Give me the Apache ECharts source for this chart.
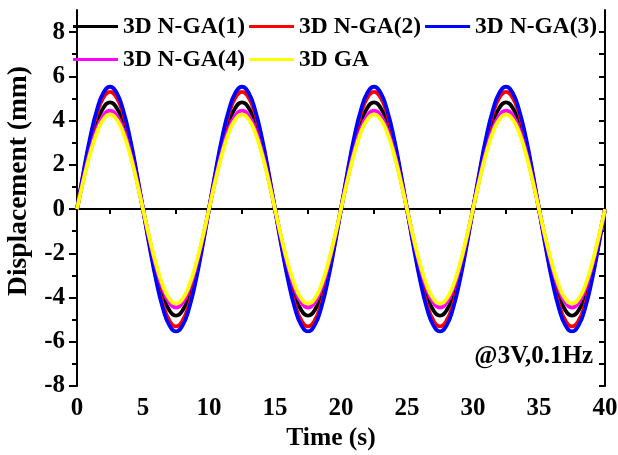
<!DOCTYPE html>
<html>
<head>
<meta charset="utf-8">
<script src="https://cdn.jsdelivr.net/npm/echarts@6/dist/echarts.min.js"></script>
<style>
  html, body { margin: 0; padding: 0; background: #fff; }
  #chart { width: 618px; height: 455px; }
</style>
</head>
<body>
<div id="chart"></div>
<script>
// sample times (s)
var time = [
  0, 0.5, 1, 1.5, 2, 2.5, 3, 3.5, 4, 4.5, 5, 5.5, 6, 6.5, 7, 7.5, 8, 8.5, 9, 9.5,
  10, 10.5, 11, 11.5, 12, 12.5, 13, 13.5, 14, 14.5, 15, 15.5, 16, 16.5, 17, 17.5, 18, 18.5, 19, 19.5,
  20, 20.5, 21, 21.5, 22, 22.5, 23, 23.5, 24, 24.5, 25, 25.5, 26, 26.5, 27, 27.5, 28, 28.5, 29, 29.5,
  30, 30.5, 31, 31.5, 32, 32.5, 33, 33.5, 34, 34.5, 35, 35.5, 36, 36.5, 37, 37.5, 38, 38.5, 39, 39.5,
  40
];

// displacement (mm)
var nga1 = [
  0, 1.49, 2.83, 3.90, 4.58, 4.82, 4.58, 3.90, 2.83, 1.49, 0, -1.49, -2.83, -3.90, -4.58, -4.82, -4.58, -3.90, -2.83, -1.49,
  0, 1.49, 2.83, 3.90, 4.58, 4.82, 4.58, 3.90, 2.83, 1.49, 0, -1.49, -2.83, -3.90, -4.58, -4.82, -4.58, -3.90, -2.83, -1.49,
  0, 1.49, 2.83, 3.90, 4.58, 4.82, 4.58, 3.90, 2.83, 1.49, 0, -1.49, -2.83, -3.90, -4.58, -4.82, -4.58, -3.90, -2.83, -1.49,
  0, 1.49, 2.83, 3.90, 4.58, 4.82, 4.58, 3.90, 2.83, 1.49, 0, -1.49, -2.83, -3.90, -4.58, -4.82, -4.58, -3.90, -2.83, -1.49,
  0
];
var nga2 = [
  0, 1.64, 3.12, 4.29, 5.04, 5.30, 5.04, 4.29, 3.12, 1.64, 0, -1.64, -3.12, -4.29, -5.04, -5.30, -5.04, -4.29, -3.12, -1.64,
  0, 1.64, 3.12, 4.29, 5.04, 5.30, 5.04, 4.29, 3.12, 1.64, 0, -1.64, -3.12, -4.29, -5.04, -5.30, -5.04, -4.29, -3.12, -1.64,
  0, 1.64, 3.12, 4.29, 5.04, 5.30, 5.04, 4.29, 3.12, 1.64, 0, -1.64, -3.12, -4.29, -5.04, -5.30, -5.04, -4.29, -3.12, -1.64,
  0, 1.64, 3.12, 4.29, 5.04, 5.30, 5.04, 4.29, 3.12, 1.64, 0, -1.64, -3.12, -4.29, -5.04, -5.30, -5.04, -4.29, -3.12, -1.64,
  0
];
var nga3 = [
  0, 1.71, 3.25, 4.47, 5.26, 5.53, 5.26, 4.47, 3.25, 1.71, 0, -1.71, -3.25, -4.47, -5.26, -5.53, -5.26, -4.47, -3.25, -1.71,
  0, 1.71, 3.25, 4.47, 5.26, 5.53, 5.26, 4.47, 3.25, 1.71, 0, -1.71, -3.25, -4.47, -5.26, -5.53, -5.26, -4.47, -3.25, -1.71,
  0, 1.71, 3.25, 4.47, 5.26, 5.53, 5.26, 4.47, 3.25, 1.71, 0, -1.71, -3.25, -4.47, -5.26, -5.53, -5.26, -4.47, -3.25, -1.71,
  0, 1.71, 3.25, 4.47, 5.26, 5.53, 5.26, 4.47, 3.25, 1.71, 0, -1.71, -3.25, -4.47, -5.26, -5.53, -5.26, -4.47, -3.25, -1.71,
  0
];
var nga4 = [
  0, 1.38, 2.62, 3.60, 4.23, 4.45, 4.23, 3.60, 2.62, 1.38, 0, -1.38, -2.62, -3.60, -4.23, -4.45, -4.23, -3.60, -2.62, -1.38,
  0, 1.38, 2.62, 3.60, 4.23, 4.45, 4.23, 3.60, 2.62, 1.38, 0, -1.38, -2.62, -3.60, -4.23, -4.45, -4.23, -3.60, -2.62, -1.38,
  0, 1.38, 2.62, 3.60, 4.23, 4.45, 4.23, 3.60, 2.62, 1.38, 0, -1.38, -2.62, -3.60, -4.23, -4.45, -4.23, -3.60, -2.62, -1.38,
  0, 1.38, 2.62, 3.60, 4.23, 4.45, 4.23, 3.60, 2.62, 1.38, 0, -1.38, -2.62, -3.60, -4.23, -4.45, -4.23, -3.60, -2.62, -1.38,
  0
];
var ga = [
  0, 1.32, 2.51, 3.45, 4.06, 4.27, 4.06, 3.45, 2.51, 1.32, 0, -1.32, -2.51, -3.45, -4.06, -4.27, -4.06, -3.45, -2.51, -1.32,
  0, 1.32, 2.51, 3.45, 4.06, 4.27, 4.06, 3.45, 2.51, 1.32, 0, -1.32, -2.51, -3.45, -4.06, -4.27, -4.06, -3.45, -2.51, -1.32,
  0, 1.32, 2.51, 3.45, 4.06, 4.27, 4.06, 3.45, 2.51, 1.32, 0, -1.32, -2.51, -3.45, -4.06, -4.27, -4.06, -3.45, -2.51, -1.32,
  0, 1.32, 2.51, 3.45, 4.06, 4.27, 4.06, 3.45, 2.51, 1.32, 0, -1.32, -2.51, -3.45, -4.06, -4.27, -4.06, -3.45, -2.51, -1.32,
  0
];

var names = ['3D N-GA(1)', '3D N-GA(2)', '3D N-GA(3)', '3D N-GA(4)', '3D GA'];
var colors = ['#000000', '#ff0000', '#0000ff', '#ff00ff', '#ffff00'];
var values = [nga1, nga2, nga3, nga4, ga];

var yMajor = [-8, -6, -4, -2, 0, 2, 4, 6, 8];
var yMinor = [-7, -5, -3, -1, 1, 3, 5, 7];
var yAll = [-8, -7, -6, -5, -4, -3, -2, -1, 0, 1, 2, 3, 4, 5, 6, 7, 8];

var FONT = 'Liberation Serif';
var lineStyle = { color: '#000', width: 2 };

var myChart = echarts.init(document.getElementById('chart'));

var series = values.map(function (v, k) {
  return {
    name: names[k],
    type: 'line',
    xAxisIndex: 0,
    yAxisIndex: 0,
    data: time.map(function (t, i) { return [t, v[i]]; }),
    showSymbol: false,
    symbol: 'none',
    smooth: true,
    lineStyle: { color: colors[k], width: 3.8 },
    itemStyle: { color: colors[k] },
    z: 2 + k
  };
});

var option = {
  animation: false,
  backgroundColor: '#fff',
  grid: { left: 77, right: 13, top: 10, bottom: 69, containLabel: false, outerBoundsMode: 'none' },
  legend: {
    data: names,
    left: 73,
    top: 12,
    width: 545,
    padding: 0,
    icon: 'rect',
    itemWidth: 45,
    itemHeight: 3,
    itemGap: 4,
    textStyle: { fontFamily: FONT, fontWeight: 'bold', fontSize: 23.5, color: '#000', lineHeight: 29 }
  },
  xAxis: [
    {
      type: 'value', position: 'bottom', min: 0, max: 40, interval: 5,
      name: 'Time (s)', nameLocation: 'middle', nameGap: 37,
      nameTextStyle: { fontFamily: FONT, fontWeight: 'bold', fontSize: 25.5, color: '#000', padding: [0, 20, 0, 0] },
      axisLine: { show: true, lineStyle: lineStyle },
      axisTick: { show: true, inside: false, length: 8, lineStyle: lineStyle },
      minorTick: { show: true, splitNumber: 2, length: 5, lineStyle: lineStyle },
      axisLabel: { fontFamily: FONT, fontWeight: 'bold', fontSize: 25, color: '#000', margin: 10 },
      splitLine: { show: false }
    },
    {
      type: 'value', position: 'top', min: 0, max: 40, interval: 5,
      axisLine: { show: true, lineStyle: lineStyle },
      axisTick: { show: true, inside: true, length: 6, lineStyle: lineStyle },
      minorTick: { show: true, splitNumber: 2, length: 4, lineStyle: lineStyle },
      axisLabel: { show: false },
      splitLine: { show: false }
    }
  ],
  yAxis: [
    {
      type: 'value', position: 'left', min: -8, max: 9, interval: 2,
      name: 'Displacement (mm)', nameLocation: 'middle', nameGap: 42,
      nameTextStyle: { fontFamily: FONT, fontWeight: 'bold', fontSize: 27.5, color: '#000', padding: [0, 0, 0, 34] },
      axisLine: { show: true, onZero: false, lineStyle: lineStyle },
      axisTick: { show: true, inside: false, length: 8, customValues: yMajor, lineStyle: lineStyle },
      axisLabel: { fontFamily: FONT, fontWeight: 'bold', fontSize: 25, color: '#000', margin: 12, customValues: yMajor },
      splitLine: { show: false }
    },
    {
      type: 'value', position: 'left', min: -8, max: 9, interval: 1,
      axisLine: { show: false },
      axisTick: { show: true, inside: false, length: 5, customValues: yMinor, lineStyle: lineStyle },
      axisLabel: { show: false },
      splitLine: { show: false }
    },
    {
      type: 'value', position: 'right', min: -8, max: 9, interval: 1,
      axisLine: { show: true, onZero: false, lineStyle: lineStyle },
      axisTick: { show: true, inside: true, length: 6, customValues: yAll, lineStyle: lineStyle },
      axisLabel: { show: false },
      splitLine: { show: false }
    }
  ],
  graphic: [
    {
      type: 'text',
      right: 25,
      top: 344,
      style: { text: '@3V,0.1Hz', font: 'bold 25px "Liberation Serif"', fill: '#000' }
    }
  ],
  series: series
};

myChart.setOption(option);
</script>
</body>
</html>
